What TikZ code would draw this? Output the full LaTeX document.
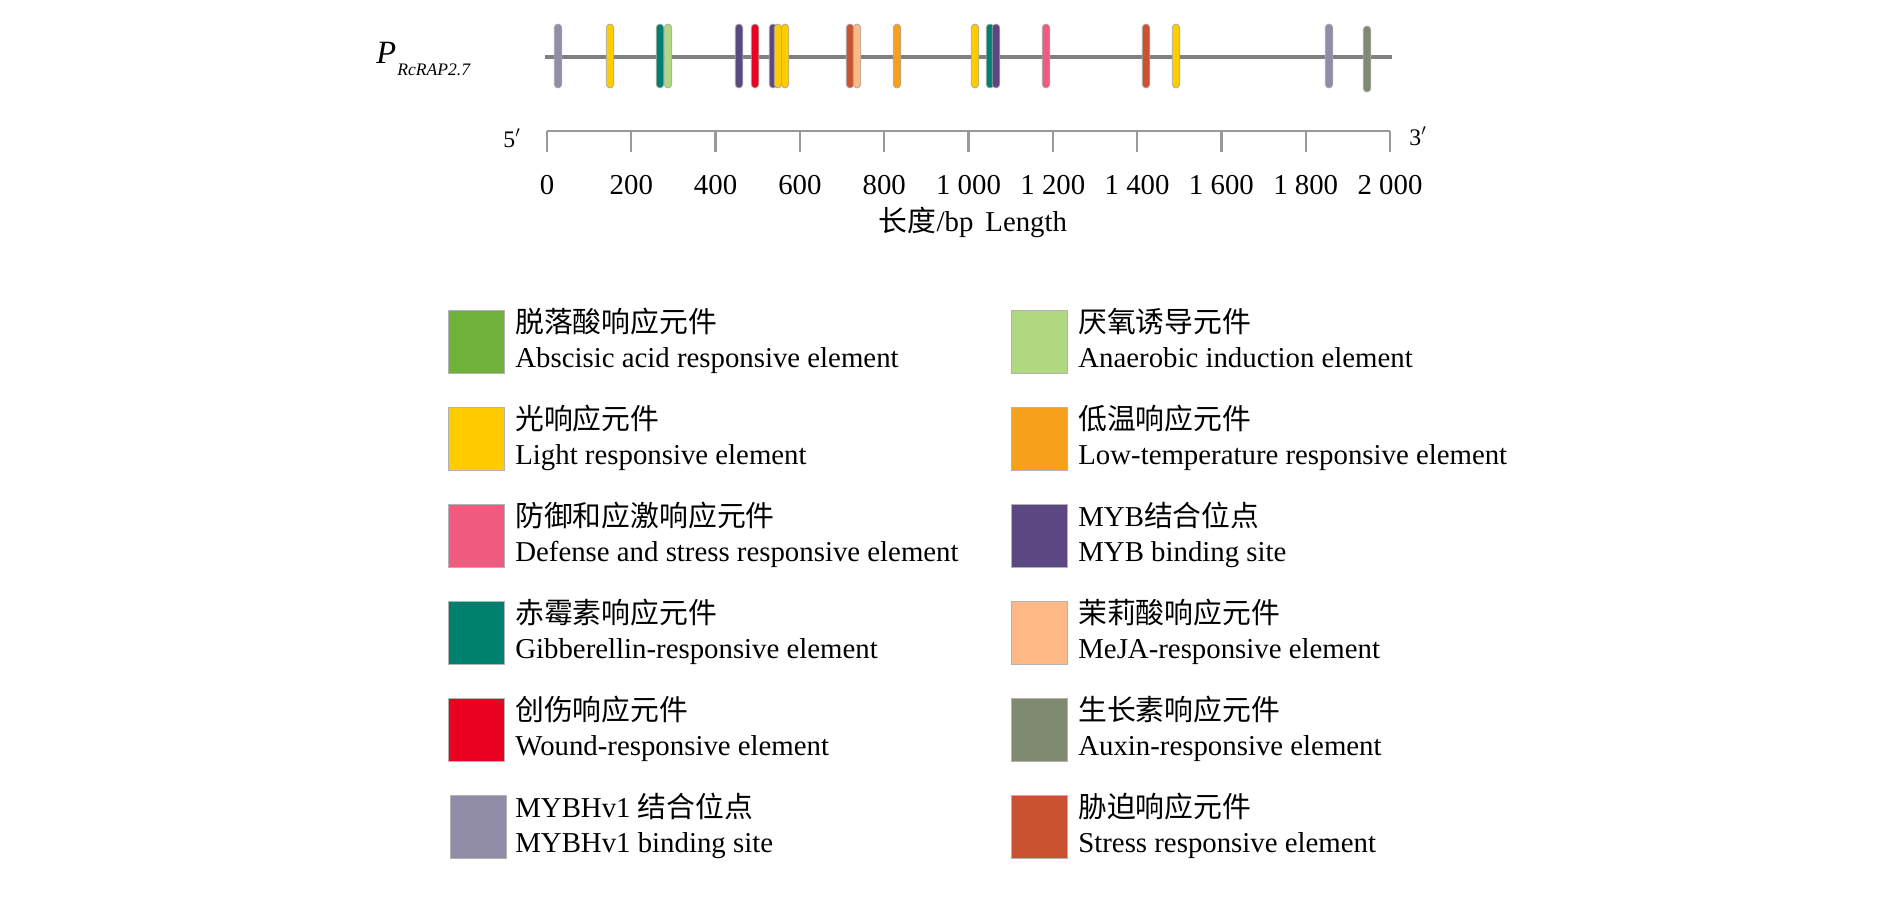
\documentclass[tikz,border=0pt]{standalone}
\usepackage{fontspec}
\setmainfont{Liberation Serif}
\newfontfamily\cjk{Noto Sans CJK SC}
\usepackage{xcolor}
\definecolor{creaba}{RGB}{112,177,60}
\definecolor{creanaer}{RGB}{176,216,128}
\definecolor{crelight}{RGB}{255,204,0}
\definecolor{crelowt}{RGB}{247,160,27}
\definecolor{credef}{RGB}{240,90,126}
\definecolor{cremyb}{RGB}{91,72,130}
\definecolor{cregib}{RGB}{0,128,111}
\definecolor{cremeja}{RGB}{253,184,133}
\definecolor{crewound}{RGB}{235,2,32}
\definecolor{creaux}{RGB}{127,138,112}
\definecolor{cremybhv}{RGB}{145,140,168}
\definecolor{crestress}{RGB}{203,82,48}
\newcommand{\lgsize}{\fontsize{16.4pt}{19pt}\selectfont}
\newcommand{\primesize}{\fontsize{13.5pt}{16pt}\selectfont}
\usetikzlibrary{positioning}

\begin{document}
\begin{tikzpicture}[
  x=0.02cm, y=-0.02cm,
  elem/.style={
    rectangle, rounded corners=0.075cm,
    draw=black!35, line width=0.4pt,
    minimum width=0.15cm, minimum height=1.28cm, inner sep=0pt
  },
  swatch/.style={
    rectangle, anchor=north west,
    draw=black!30, line width=0.5pt,
    minimum width=1.12cm, minimum height=1.26cm, inner sep=0pt
  },
  lgtext/.style={anchor=base west, inner sep=0pt, font=\lgsize},
  ticklab/.style={anchor=base, inner sep=0pt, font=\lgsize},
  dna/.style={draw=black!50, line width=2pt},
  ruler/.style={draw=black!40, line width=1.3pt}
]
\useasboundingbox (0,0) rectangle (1890,897);

% Promoter name
\node[anchor=base west, inner sep=0pt, font=\fontsize{18.5pt}{20pt}\selectfont\itshape] (pname) at (376,63) {P};
\node[anchor=base west, inner sep=0pt, font=\fontsize{10pt}{11pt}\selectfont\itshape] (psub) at (397,75) {RcRAP2.7};

% Promoter line
\coordinate (p5) at (545,57);
\coordinate (p3) at (1392,57);
\draw[dna] (p5) -- (p3);

% Elements on the promoter
\node[elem, fill=cremybhv] (e1) at (558,56) {};
\node[elem, fill=crelight] (e2) at (610,56) {};
\node[elem, fill=cregib] (e3) at (660,56) {};
\node[elem, fill=creanaer] (e4) at (668,56) {};
\node[elem, fill=cremyb] (e5) at (739,56) {};
\node[elem, fill=crewound] (e6) at (755,56) {};
\node[elem, fill=cremyb] (e7) at (773,56) {};
\node[elem, fill=crelight] (e8) at (778,56) {};
\node[elem, fill=crelight] (e9) at (785,56) {};
\node[elem, fill=crestress] (e10) at (850,56) {};
\node[elem, fill=cremeja] (e11) at (857,56) {};
\node[elem, fill=crelowt] (e12) at (897,56) {};
\node[elem, fill=crelight] (e13) at (975,56) {};
\node[elem, fill=cregib] (e14) at (990,56) {};
\node[elem, fill=cremyb] (e15) at (996,56) {};
\node[elem, fill=credef] (e16) at (1046,56) {};
\node[elem, fill=crestress] (e17) at (1146,56) {};
\node[elem, fill=crelight] (e18) at (1176,56) {};
\node[elem, fill=cremybhv] (e19) at (1329,56) {};
\node[elem, fill=creaux, minimum height=1.32cm] (e20) at (1367,59) {};

% Length scale
\coordinate (r0) at (547,131);
\coordinate (r1) at (1390,131);
\draw[ruler] (r0) -- (r1);
\foreach \k/\lab in {0/0,1/200,2/400,3/600,4/800,5/1 000,6/1 200,7/1 400,8/1 600,9/1 800,10/2 000} {
  \draw[ruler] (547+84.3*\k,131) -- (547+84.3*\k,152);
  \node[ticklab] (lab\k) at (547+84.3*\k,194) {\lab};
}
\node[anchor=base, inner sep=0pt, font=\primesize] (five) at (512,147) {5$'$};
\node[anchor=base, inner sep=0pt, font=\primesize] (three) at (1418,145) {3$'$};
\node[ticklab] (len) at (973,231) {{\cjk 长度}/bp\ \,Length};

% Legend, left column
\node[swatch, fill=creaba] (s1) at (448,310) {};
\node[lgtext] (z1) at (515,332) {\cjk 脱落酸响应元件};
\node[lgtext] (n1) at (515,367) {Abscisic acid responsive element};

\node[swatch, fill=crelight] (s2) at (448,407) {};
\node[lgtext] (z2) at (515,429) {\cjk 光响应元件};
\node[lgtext] (n2) at (515,464) {Light responsive element};

\node[swatch, fill=credef] (s3) at (448,504) {};
\node[lgtext] (z3) at (515,526) {\cjk 防御和应激响应元件};
\node[lgtext] (n3) at (515,561) {Defense and stress responsive element};

\node[swatch, fill=cregib] (s4) at (448,601) {};
\node[lgtext] (z4) at (515,623) {\cjk 赤霉素响应元件};
\node[lgtext] (n4) at (515,658) {Gibberellin-responsive element};

\node[swatch, fill=crewound] (s5) at (448,698) {};
\node[lgtext] (z5) at (515,720) {\cjk 创伤响应元件};
\node[lgtext] (n5) at (515,755) {Wound-responsive element};

\node[swatch, fill=cremybhv] (s6) at (450,795) {};
\node[lgtext] (z6) at (515,817) {MYBHv1 {\cjk 结合位点}};
\node[lgtext] (n6) at (515,852) {MYBHv1 binding site};

% Legend, right column
\node[swatch, fill=creanaer] (s7) at (1011,310) {};
\node[lgtext] (z7) at (1078,332) {\cjk 厌氧诱导元件};
\node[lgtext] (n7) at (1078,367) {Anaerobic induction element};

\node[swatch, fill=crelowt] (s8) at (1011,407) {};
\node[lgtext] (z8) at (1078,429) {\cjk 低温响应元件};
\node[lgtext] (n8) at (1078,464) {Low-temperature responsive element};

\node[swatch, fill=cremyb] (s9) at (1011,504) {};
\node[lgtext] (z9) at (1078,526) {MYB{\cjk 结合位点}};
\node[lgtext] (n9) at (1078,561) {MYB binding site};

\node[swatch, fill=cremeja] (s10) at (1011,601) {};
\node[lgtext] (z10) at (1078,623) {\cjk 茉莉酸响应元件};
\node[lgtext] (n10) at (1078,658) {MeJA-responsive element};

\node[swatch, fill=creaux] (s11) at (1011,698) {};
\node[lgtext] (z11) at (1078,720) {\cjk 生长素响应元件};
\node[lgtext] (n11) at (1078,755) {Auxin-responsive element};

\node[swatch, fill=crestress] (s12) at (1011,795) {};
\node[lgtext] (z12) at (1078,817) {\cjk 胁迫响应元件};
\node[lgtext] (n12) at (1078,852) {Stress responsive element};
\end{tikzpicture}
\end{document}
